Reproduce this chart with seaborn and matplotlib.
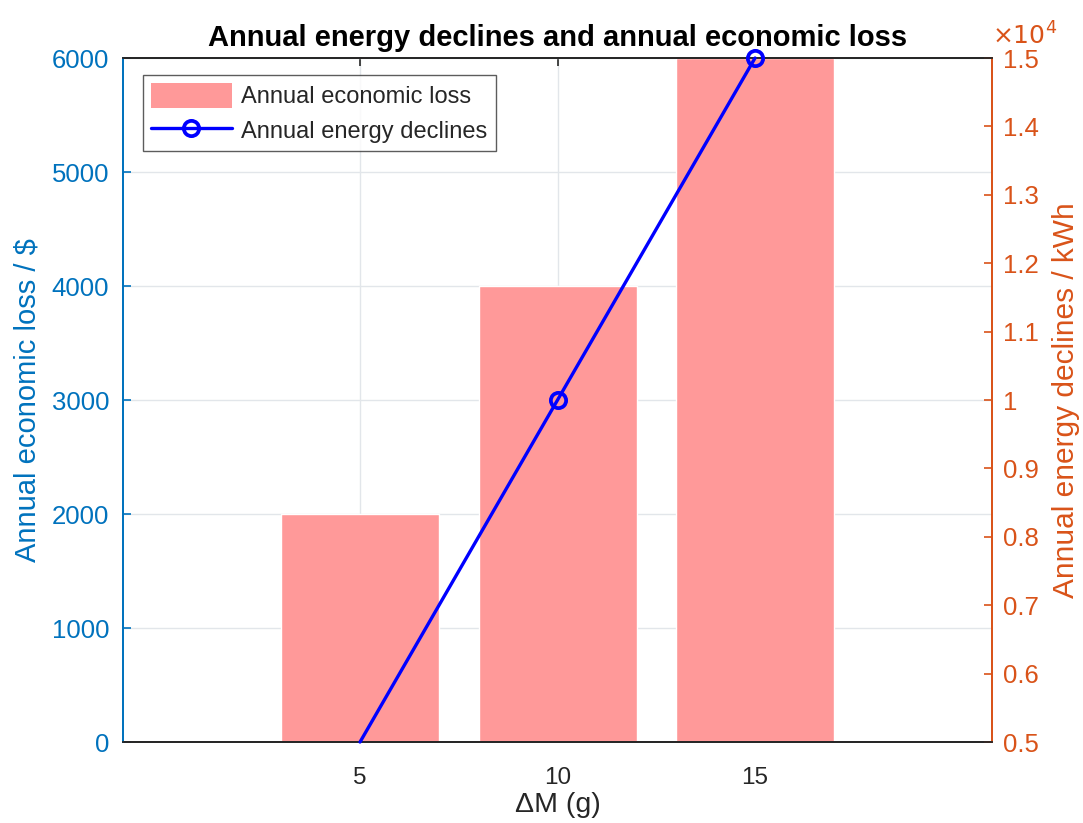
import matplotlib
matplotlib.use("Agg")
import matplotlib.pyplot as plt
import seaborn as sns
from matplotlib.ticker import FuncFormatter, FixedLocator
from matplotlib.patches import Patch
from matplotlib.lines import Line2D

delta_m = [5, 10, 15]
economic_loss = [2000, 4000, 6000]
energy_declines = [5000, 10000, 15000]

sns.set_style("white")
plt.rcParams['font.family'] = ['Liberation Sans', 'DejaVu Sans']

BLUE_AX = '#0072BD'
ORANGE_AX = '#D95319'
DARK = '#262626'
BAR_C = '#FF9999'

fig = plt.figure(figsize=(10.83, 8.23), dpi=100)
ax = fig.add_axes([0.1136, 0.0984, 0.8024, 0.8311])

sns.barplot(x=delta_m, y=economic_loss, native_scale=True, width=0.8,
            color=BAR_C, saturation=1, ax=ax, zorder=2)
ax.set_xlim(-1, 21)
ax.set_ylim(0, 6000)
ax.set_xticks([5, 10, 15])
ax.set_yticks(range(0, 6001, 1000))
ax.grid(True, color='#E2E6EA', lw=1.0, zorder=0)
ax.set_axisbelow(True)
ax.tick_params(axis='x', direction='in', length=6, width=1.2, colors=DARK,
               labelsize=17.5, pad=18, top=True, labelcolor=DARK)
ax.tick_params(axis='y', direction='in', length=6, width=1.2, colors=BLUE_AX,
               labelsize=18.5, pad=10, labelcolor=BLUE_AX)
ax.set_xlabel('ΔM (g)', fontsize=20.5, color=DARK, labelpad=2)
ax.set_ylabel('Annual economic loss / \\$', fontsize=21, color=BLUE_AX, labelpad=7)
ax.set_title('Annual energy declines and annual economic loss',
             fontsize=21, fontweight='bold', color='black', pad=9)

ax2 = ax.twinx()
sns.lineplot(x=delta_m, y=energy_declines, ax=ax2, color='blue', lw=2.4,
             marker='o', markersize=11, markerfacecolor='none',
             markeredgecolor='blue', markeredgewidth=2.7,
             markevery=[1, 2], clip_on=False, zorder=5)
ax2.set_ylim(5000, 15000)
ax2.yaxis.set_major_locator(FixedLocator(list(range(5000, 15001, 1000))))
ax2.yaxis.set_major_formatter(FuncFormatter(lambda v, p: '%g' % round(v / 1e4, 2)))
ax2.tick_params(axis='y', direction='in', length=6, width=1.2, colors=ORANGE_AX,
                labelsize=18.5, pad=8, labelcolor=ORANGE_AX)
ax2.set_ylabel('Annual energy declines / kWh', fontsize=21.5, color=ORANGE_AX, labelpad=9)
ax2.set_xlim(-1, 21)

for a in (ax, ax2):
    a.spines['left'].set_color(BLUE_AX)
    a.spines['right'].set_color(ORANGE_AX)
    a.spines['top'].set_color(DARK)
    a.spines['bottom'].set_color(DARK)
    for s in a.spines.values():
        s.set_linewidth(1.3)
        s.set_visible(True)

ax2.text(1.0, 1.012, r'$\times10^4$', transform=ax2.transAxes, color=ORANGE_AX,
         fontsize=18, ha='left', va='bottom', family='Liberation Sans')

handles = [Patch(facecolor=BAR_C, edgecolor='none'),
           Line2D([0], [0], color='blue', lw=2.4, marker='o', markersize=11,
                  markerfacecolor='none', markeredgecolor='blue', markeredgewidth=2.7)]
leg = ax2.legend(handles, ['Annual economic loss', 'Annual energy declines'],
                 loc='upper left', bbox_to_anchor=(0.023, 0.975), fontsize=17,
                 frameon=True, fancybox=False, edgecolor='#333333',
                 handlelength=3.4, handleheight=1.2, handletextpad=0.4, borderpad=0.35,
                 labelspacing=0.4, borderaxespad=0)
leg.get_frame().set_linewidth(1.0)

fig.savefig('out.png', dpi=100)
